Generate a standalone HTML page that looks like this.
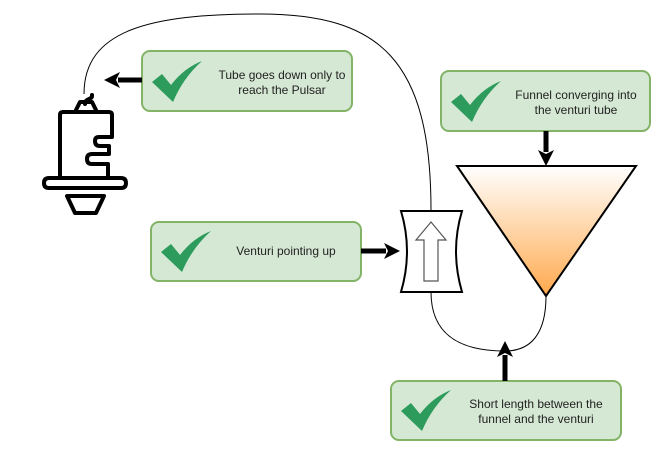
<!DOCTYPE html>
<html><head><meta charset="utf-8"><style>
body{margin:0;background:#fff;}
svg{display:block;font-family:"Liberation Sans",sans-serif;}
</style></head><body>
<svg width="672" height="463" viewBox="0 0 672 463" xmlns="http://www.w3.org/2000/svg">
<defs>
<linearGradient id="g" x1="0" y1="0" x2="0" y2="1">
<stop offset="0" stop-color="#ffffff"/><stop offset="1" stop-color="#ffa94d"/>
</linearGradient>
<path id="ck" d="M0,21 L10,13 L19,24 Q32,7 50,0 Q31,17 21,41 Z" fill="#2d9b5c"/>
</defs>
<!-- top curve -->
<path d="M84,94 C84,30 150,14 260,14 C380,14 431,60 431,210" fill="none" stroke="#000" stroke-width="1"/>
<!-- bottom curve -->
<path d="M431,292 C431,335 460,351 505,351 C530,351 546,335 546,296" fill="none" stroke="#000" stroke-width="1"/>
<!-- funnel -->
<polygon points="457,166 636,166 546,296" fill="url(#g)" stroke="#000" stroke-width="2"/>
<!-- venturi -->
<path d="M401,211 L462,211 Q450,251 462,292 L401,292 Q413,251 401,211 Z" fill="#fff" stroke="#000" stroke-width="2"/>
<polygon points="431,222 446,240 438,240 438,281 424,281 424,240 416,240" fill="#fff" stroke="#555" stroke-width="1.2"/>
<!-- pulsar icon -->
<g fill="none" stroke="#000" stroke-width="4" stroke-linecap="round" stroke-linejoin="round">
<path d="M85,104 C85,98 92,100 92,96 L92,95"/>
<path d="M76,110 L80,102 L92,102 L96,110"/>
<path d="M60,135 L60,115 Q60,112 63,112 L109,112 Q112,112 112,115 L112,137 L99,137 Q95,137 95,141 Q95,146 100,146 L109,146 L109,154 L92,154 Q87,154 87,159 Q87,164 92,164 L108,164 L108,178"/>
<path d="M60,135 L60,178"/>
<path d="M49,178 L121,178 Q126,178 126,183 Q126,188 121,188 L49,188 Q44,188 44,183 Q44,178 49,178 Z"/>
<path d="M67,196 L104,196 L96,213 L75,213 Z"/>
</g>
<!-- boxes -->
<rect x="142" y="51" width="210" height="60" rx="8" fill="#d5e8d4" stroke="#82b366" stroke-width="2"/>
<use href="#ck" x="152" y="61"/>
<text x="282" y="79" font-size="12" text-anchor="middle" fill="#222">Tube goes down only to</text>
<text x="282" y="94" font-size="12" text-anchor="middle" fill="#222">reach the Pulsar</text>

<rect x="441" y="71" width="209" height="60" rx="8" fill="#d5e8d4" stroke="#82b366" stroke-width="2"/>
<use href="#ck" x="451" y="81"/>
<text x="576" y="99" font-size="12" text-anchor="middle" fill="#222">Funnel converging into</text>
<text x="576" y="114" font-size="12" text-anchor="middle" fill="#222">the venturi tube</text>

<rect x="151" y="222" width="210" height="59" rx="8" fill="#d5e8d4" stroke="#82b366" stroke-width="2"/>
<use href="#ck" x="161" y="231"/>
<text x="286" y="255" font-size="12" text-anchor="middle" fill="#222">Venturi pointing up</text>

<rect x="391" y="381" width="230" height="59" rx="8" fill="#d5e8d4" stroke="#82b366" stroke-width="2"/>
<use href="#ck" x="401" y="390"/>
<text x="536" y="408" font-size="12" text-anchor="middle" fill="#222">Short length between the</text>
<text x="536" y="423" font-size="12" text-anchor="middle" fill="#222">funnel and the venturi</text>

<!-- arrows -->
<line x1="142" y1="80" x2="118" y2="80" stroke="#000" stroke-width="5"/>
<polygon points="104,80 120,72 116,80 120,88" fill="#000"/>
<line x1="546" y1="131" x2="546" y2="152" stroke="#000" stroke-width="5"/>
<polygon points="546,166 538,150 546,154 554,150" fill="#000"/>
<line x1="361" y1="251" x2="386" y2="251" stroke="#000" stroke-width="5"/>
<polygon points="400,251 384,243 388,251 384,259" fill="#000"/>
<line x1="505" y1="381" x2="505" y2="355" stroke="#000" stroke-width="5"/>
<polygon points="505,341 497,357 505,353 513,357" fill="#000"/>
</svg>
</body></html>
